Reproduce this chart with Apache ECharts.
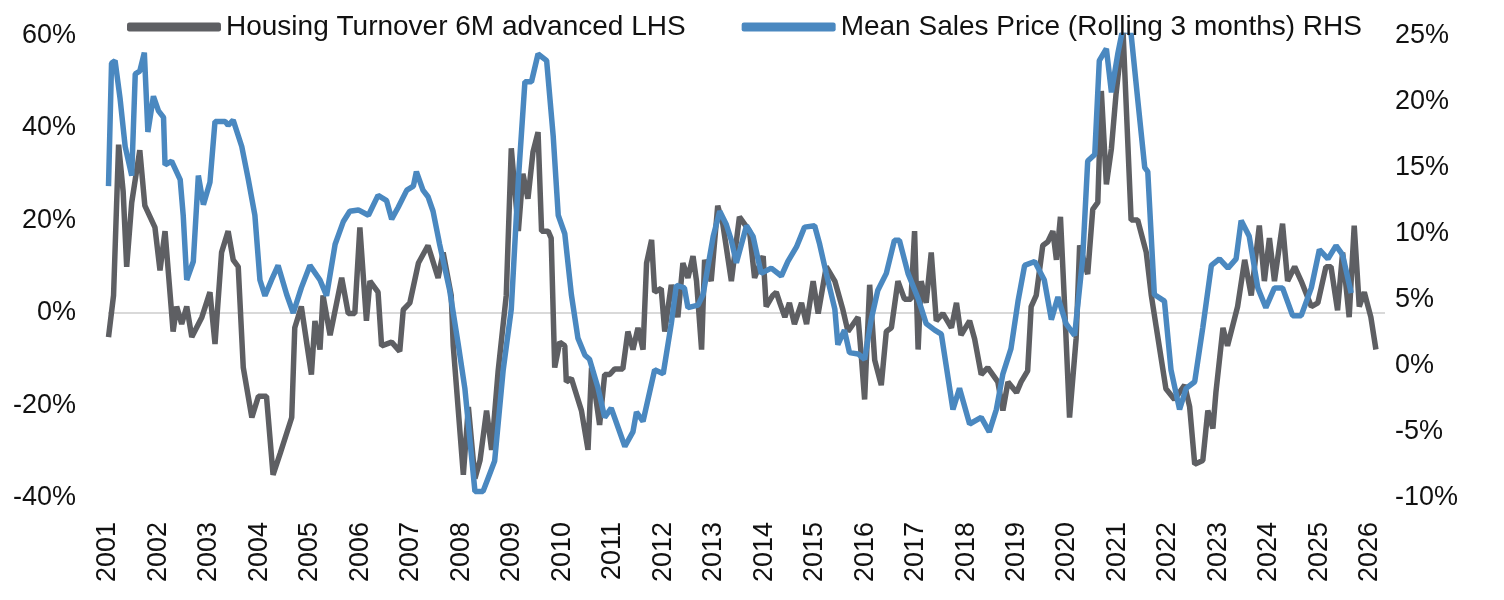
<!DOCTYPE html>
<html>
<head>
<meta charset="utf-8">
<script src="https://cdn.jsdelivr.net/npm/echarts@6/dist/echarts.min.js"></script>
<style>html,body{margin:0;background:#fff}#c{width:1504px;height:600px}</style>
</head>
<body>
<div id="c"></div>
<script>
// time in decimal years, values in %
const turnoverYears = [2001.01,2001.11,2001.21,2001.30,2001.37,2001.47,2001.63,2001.73,2001.93,2002.03,2002.13,2002.29,2002.36,2002.46,2002.56,2002.66,2002.86,2003.02,2003.12,2003.25,2003.38,2003.48,2003.58,2003.68,2003.85,2003.98,2004.14,2004.27,2004.41,2004.64,2004.70,2004.83,2005.03,2005.10,2005.20,2005.26,2005.40,2005.63,2005.76,2005.89,2005.99,2006.12,2006.19,2006.35,2006.42,2006.62,2006.78,2006.85,2006.98,2007.15,2007.34,2007.54,2007.64,2007.80,2007.84,2008.04,2008.14,2008.27,2008.37,2008.50,2008.60,2008.73,2008.89,2008.99,2009.13,2009.22,2009.32,2009.42,2009.52,2009.59,2009.72,2009.78,2009.85,2009.95,2010.05,2010.08,2010.18,2010.38,2010.51,2010.58,2010.74,2010.84,2010.94,2011.04,2011.20,2011.30,2011.40,2011.50,2011.60,2011.67,2011.77,2011.83,2011.96,2012.03,2012.16,2012.29,2012.39,2012.49,2012.59,2012.66,2012.76,2012.82,2012.95,2013.08,2013.18,2013.35,2013.51,2013.71,2013.81,2013.98,2014.04,2014.17,2014.24,2014.31,2014.41,2014.50,2014.60,2014.74,2014.84,2014.97,2015.07,2015.23,2015.40,2015.56,2015.66,2015.86,2015.92,2015.99,2016.09,2016.19,2016.32,2016.42,2016.52,2016.65,2016.78,2016.91,2016.98,2017.05,2017.11,2017.21,2017.31,2017.41,2017.54,2017.71,2017.81,2017.90,2018.07,2018.17,2018.30,2018.43,2018.63,2018.73,2018.83,2019.00,2019.09,2019.22,2019.29,2019.39,2019.52,2019.62,2019.72,2019.79,2019.87,2019.95,2020.05,2020.18,2020.25,2020.41,2020.51,2020.61,2020.68,2020.78,2020.88,2020.97,2021.11,2021.20,2021.27,2021.40,2021.57,2021.67,2021.77,2021.96,2022.13,2022.33,2022.43,2022.53,2022.69,2022.79,2022.89,2022.95,2023.09,2023.18,2023.38,2023.52,2023.65,2023.81,2023.91,2024.01,2024.11,2024.27,2024.37,2024.51,2024.64,2024.84,2024.97,2025.13,2025.23,2025.36,2025.46,2025.59,2025.69,2025.79,2025.89,2026.02,2026.12];
const turnoverValues = [-5.2,3.8,36.4,26.3,10.0,23.9,35.2,23.2,18.5,9.2,17.7,-4.0,1.4,-2.4,1.4,-5.2,-0.9,4.5,-6.7,13.1,17.7,11.5,10.0,-11.8,-22.6,-18.0,-18.0,-35.0,-30.4,-22.6,-3.2,1.4,-13.3,-1.7,-7.9,3.8,-4.8,7.6,-0.1,-0.1,18.5,-1.7,6.9,4.5,-7.1,-6.3,-8.3,0.7,2.2,10.8,14.6,7.6,13.1,3.8,-7.1,-35.0,-20.3,-35.8,-31.9,-21.1,-29.6,-12.5,3.8,35.6,17.7,30.1,24.7,34.8,39.1,17.7,17.7,16.2,-11.8,-6.3,-7.1,-14.9,-14.1,-21.1,-29.6,-11.8,-24.2,-13.3,-13.3,-12.1,-12.1,-4.0,-7.9,-3.2,-7.9,10.8,15.8,4.5,5.3,-4.0,6.1,-0.9,10.8,7.6,12.3,6.9,-7.9,11.5,6.9,23.2,19.3,6.9,20.8,17.7,7.6,12.3,1.4,3.8,4.5,2.2,-0.9,2.2,-2.4,2.2,-2.4,6.9,-0.1,10.0,6.9,0.7,-4.0,-0.9,-8.7,-18.7,6.1,-10.2,-15.6,-4.0,-3.2,6.9,3.0,3.0,17.7,-7.9,6.9,2.2,13.1,-1.7,-0.1,-3.2,2.2,-4.8,-1.7,-5.6,-13.3,-11.8,-14.9,-21.1,-14.9,-17.2,-14.9,-12.5,1.4,3.8,14.6,15.4,17.7,11.5,20.8,2.2,-22.6,-5.6,14.6,8.4,22.4,23.9,48.0,27.8,35.6,47.2,61.0,37.9,20.1,20.1,13.1,3.8,-3.2,-16.4,-18.7,-15.6,-20.3,-32.7,-31.9,-21.1,-25.0,-17.2,-3.2,-7.1,1.4,11.5,3.8,18.9,6.9,16.2,6.9,19.3,6.9,10.0,6.9,1.4,2.2,10.0,10.0,0.6,13.1,-0.9,18.9,1.4,4.5,-0.9,-7.9];

const priceYears = [2001.01,2001.07,2001.14,2001.24,2001.34,2001.47,2001.54,2001.63,2001.72,2001.79,2001.90,2002.00,2002.10,2002.13,2002.26,2002.43,2002.49,2002.56,2002.69,2002.79,2002.89,2003.02,2003.12,2003.32,2003.38,2003.48,2003.65,2003.78,2003.91,2004.01,2004.11,2004.24,2004.37,2004.54,2004.67,2004.83,2005.00,2005.20,2005.33,2005.50,2005.66,2005.79,2005.96,2006.16,2006.35,2006.52,2006.62,2006.75,2006.92,2007.05,2007.11,2007.24,2007.34,2007.44,2007.57,2007.77,2007.94,2008.07,2008.27,2008.43,2008.53,2008.66,2008.83,2008.99,2009.13,2009.26,2009.39,2009.52,2009.69,2009.82,2009.92,2010.05,2010.18,2010.31,2010.45,2010.54,2010.71,2010.84,2010.97,2011.11,2011.24,2011.40,2011.47,2011.60,2011.83,2012.00,2012.16,2012.26,2012.42,2012.49,2012.69,2012.79,2012.99,2013.12,2013.25,2013.35,2013.45,2013.65,2013.78,2013.94,2014.14,2014.34,2014.47,2014.64,2014.80,2015.00,2015.10,2015.23,2015.40,2015.46,2015.59,2015.69,2015.86,2015.99,2016.12,2016.25,2016.42,2016.58,2016.68,2016.85,2017.05,2017.21,2017.38,2017.51,2017.74,2017.87,2018.07,2018.30,2018.46,2018.60,2018.73,2018.89,2019.03,2019.16,2019.36,2019.55,2019.69,2019.82,2019.98,2020.15,2020.31,2020.41,2020.55,2020.64,2020.78,2020.88,2021.01,2021.11,2021.27,2021.40,2021.54,2021.60,2021.73,2021.93,2022.06,2022.23,2022.36,2022.53,2022.69,2022.86,2023.02,2023.19,2023.35,2023.45,2023.61,2023.78,2023.94,2024.11,2024.27,2024.47,2024.64,2024.84,2025.00,2025.17,2025.33,2025.46,2025.63];
const priceValues = [13.6,22.9,23.1,20.2,16.6,14.4,22.1,22.3,23.7,17.7,20.4,19.3,18.8,15.2,15.5,14.1,11.4,6.5,7.9,14.4,12.2,13.9,18.5,18.5,18.2,18.6,16.6,14.1,11.4,6.5,5.3,6.5,7.6,5.4,4.0,5.9,7.6,6.5,5.3,9.2,10.9,11.7,11.8,11.4,12.9,12.5,11.1,12.0,13.3,13.6,14.7,13.3,12.8,11.7,9.2,5.7,1.6,-1.7,-9.5,-9.5,-8.5,-7.2,-0.3,4.3,14.1,21.5,21.5,23.6,23.1,17.4,11.4,10.0,5.4,2.1,0.8,0.5,-1.7,-3.9,-3.2,-4.7,-6.1,-5.0,-3.5,-4.2,-0.3,-0.6,3.2,6.1,5.9,4.4,4.6,5.4,9.8,11.7,10.7,9.5,7.8,10.6,9.8,7.0,7.4,6.8,7.9,9.0,10.5,10.6,9.2,7.0,4.3,1.6,2.7,1.0,0.9,0.5,3.5,5.7,7.0,9.5,9.5,7.0,5.1,3.2,2.7,2.4,-3.3,-1.7,-4.4,-3.9,-5.0,-3.3,-0.6,1.3,4.9,7.6,7.9,6.5,3.5,5.2,3.2,2.3,8.1,15.5,16.0,23.1,24.0,20.7,23.7,25.6,25.1,20.2,15.0,14.7,5.4,4.9,-0.3,-3.3,-1.7,-1.2,2.9,7.6,8.1,7.4,8.1,11.0,9.8,5.9,4.4,5.9,5.9,3.8,3.8,5.9,8.8,8.1,9.1,8.4,5.5];

const turnoverData = turnoverYears.map((y, i) => [y, turnoverValues[i]]);
const priceData = priceYears.map((y, i) => [y, priceValues[i]]);

const font = '"Liberation Sans", Arial, sans-serif';
const chart = echarts.init(document.getElementById('c'));
chart.setOption({
  animation: false,
  backgroundColor: '#fff',
  grid: { left: 108, right: 119, top: 35.5, bottom: 102 },
  legend: {
    left: 122, top: 8, itemGap: 56,
    itemWidth: 94, itemHeight: 9, icon: 'roundRect',
    textStyle: { fontFamily: font, fontSize: 28, color: '#111' },
    data: ['Housing Turnover 6M advanced LHS', 'Mean Sales Price (Rolling 3 months) RHS']
  },
  xAxis: {
    type: 'value', min: 2001, max: 2026.3, interval: 1,
    axisLine: { show: false }, axisTick: { show: false }, splitLine: { show: false },
    axisLabel: {
      rotate: 90, fontFamily: font, fontSize: 27, color: '#111', margin: 24,
      showMaxLabel: false,
      formatter: v => Number.isInteger(v) ? String(v) : ''
    }
  },
  yAxis: [
    {
      type: 'value', min: -40, max: 60, interval: 20,
      axisLine: { show: false }, axisTick: { show: false }, splitLine: { show: false },
      axisLabel: { fontFamily: font, fontSize: 27, color: '#111', margin: 32, formatter: '{value}%' }
    },
    {
      type: 'value', min: -10, max: 25, interval: 5,
      axisLine: { show: false }, axisTick: { show: false }, splitLine: { show: false },
      axisLabel: { fontFamily: font, fontSize: 27, color: '#111', margin: 10, formatter: '{value}%' }
    }
  ],
  series: [
    {
      name: 'Housing Turnover 6M advanced LHS', type: 'line', yAxisIndex: 0,
      data: turnoverData, showSymbol: false, clip: true,
      lineStyle: { color: '#5e5f63', width: 5.5 }, itemStyle: { color: '#5e5f63' },
      markLine: {
        silent: true, symbol: 'none', label: { show: false },
        lineStyle: { color: '#d9d9d9', width: 2, type: 'solid' },
        data: [{ yAxis: 0 }], z: 0
      }
    },
    {
      name: 'Mean Sales Price (Rolling 3 months) RHS', type: 'line', yAxisIndex: 1,
      data: priceData, showSymbol: false, clip: true,
      lineStyle: { color: '#4a88c0', width: 5.5 }, itemStyle: { color: '#4a88c0' }
    }
  ]
});
</script>
</body>
</html>
